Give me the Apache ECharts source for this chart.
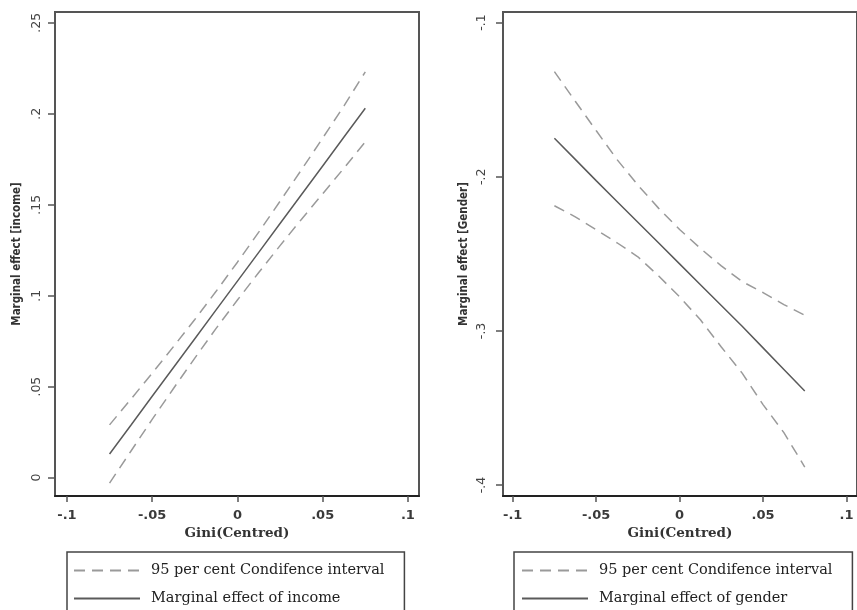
<!DOCTYPE html>
<html>
<head>
<meta charset="utf-8">
<script src="https://cdn.jsdelivr.net/npm/echarts@6/dist/echarts.min.js"></script>
<style>
html,body{margin:0;padding:0;background:#fff;}
#chart{width:857px;height:610px;}
</style>
</head>
<body>
<div id="chart"></div>
<script>
// ---- data ----
var giniX = [-0.075, -0.0625, -0.05, -0.0375, -0.025, -0.0125, 0, 0.0125, 0.025, 0.0375, 0.05, 0.0625, 0.075];

var incomeMid   = [0.013, 0.0288, 0.0447, 0.0605, 0.0763, 0.0922, 0.108, 0.1238, 0.1397, 0.1555, 0.1713, 0.1872, 0.203];
var incomeUpper = [0.029, 0.0431, 0.0574, 0.072, 0.0869, 0.1024, 0.1184, 0.1349, 0.1519, 0.1691, 0.1866, 0.2043, 0.223];
var incomeLower = [-0.003, 0.0145, 0.032, 0.049, 0.0657, 0.082, 0.0976, 0.1127, 0.1275, 0.1419, 0.156, 0.1701, 0.1846];

var genderMid   = [-0.175, -0.1887, -0.2025, -0.216, -0.2295, -0.243, -0.2565, -0.270, -0.2835, -0.297, -0.311, -0.325, -0.339];
var genderUpper = [-0.1318, -0.151, -0.170, -0.1888, -0.2054, -0.2205, -0.2342, -0.2465, -0.2578, -0.268, -0.2751, -0.2829, -0.2898];
var genderLower = [-0.2188, -0.226, -0.2343, -0.2428, -0.2519, -0.2644, -0.2779, -0.2928, -0.3104, -0.3274, -0.3478, -0.366, -0.3883];

var xTickValues = [-0.1, -0.05, 0, 0.05, 0.1];
var xTickLabels = ['-.1', '-.05', '0', '.05', '.1'];
var incomeTickValues = [0, 0.05, 0.1, 0.15, 0.2, 0.25];
var incomeTickLabels = ['0', '.05', '.1', '.15', '.2', '.25'];
var genderTickValues = [-0.4, -0.3, -0.2, -0.1];
var genderTickLabels = ['-.4', '-.3', '-.2', '-.1'];

var ciName = '95 per cent Condifence interval';
var incomeName = 'Marginal effect of income';
var genderName = 'Marginal effect of gender';
var xTitle = 'Gini(Centred)';
var incomeTitle = 'Marginal effect [income]';
var genderTitle = 'Marginal effect [Gender]';

function pairs(xs, ys){ return xs.map(function(x,i){ return [x, ys[i]]; }); }
function labeler(vals, labs){
  return function(v){
    for (var i=0;i<vals.length;i++){ if (Math.abs(vals[i]-v) < 1e-9) return labs[i]; }
    return '';
  };
}

var frameColor = '#555';
var dashStyle = {color:'#9a9a9a', width:1.5, type:[11,7]};
var solidStyle = {color:'#5a5a5a', width:1.5, type:'solid'};

function xAxisDef(gi, mn, mx){
  return {
    type:'value', gridIndex:gi, min:mn, max:mx,
    name: xTitle, nameLocation:'middle', nameGap:29,
    nameTextStyle:{fontFamily:'DejaVu Serif', fontWeight:'bold', fontSize:13.5, color:'#333'},
    axisLine:{show:true, onZero:false, lineStyle:{color:'#222', width:2}},
    axisTick:{show:true, length:6, customValues:xTickValues, lineStyle:{color:frameColor, width:1.5}},
    axisLabel:{show:true, customValues:xTickValues, formatter:labeler(xTickValues, xTickLabels),
      margin:13, fontFamily:'DejaVu Sans', fontWeight:'bold', fontSize:13, color:'#3a3a3a'},
    splitLine:{show:false}
  };
}
function yAxisDef(gi, mn, mx, vals, labs, title, gap, lmargin){
  return {
    type:'value', gridIndex:gi, min:mn, max:mx,
    name: title, nameLocation:'middle', nameGap:gap, nameRotate:90,
    nameTextStyle:{fontFamily:'DejaVu Sans Condensed, DejaVu Sans', fontWeight:'bold', fontSize:11.5, color:'#333'},
    axisLine:{show:true, onZero:false, lineStyle:{color:frameColor, width:2}},
    axisTick:{show:true, length:7, customValues:vals, lineStyle:{color:frameColor, width:1.5}},
    axisLabel:{show:true, rotate:90, customValues:vals, formatter:labeler(vals, labs),
      margin:lmargin, fontFamily:'DejaVu Sans', fontSize:12.5, color:'#444'},
    splitLine:{show:false}
  };
}

function legendDef(names, left, padLeft){
  return {
    data:names, orient:'vertical', left:left, top:552, height:120,
    itemWidth:66, itemHeight:14, itemGap:13,
    padding:[11, 20, 30, padLeft], borderColor:'#444', borderWidth:1.5, backgroundColor:'#fff',
    itemStyle:{opacity:0},
    textStyle:{fontFamily:'DejaVu Serif', fontSize:14.5, color:'#222', padding:[0,0,0,6]},
    selectedMode:false
  };
}

var chart = echarts.init(document.getElementById('chart'), null, {renderer:'canvas'});
chart.setOption({
  animation:false,
  backgroundColor:'#fff',
  grid:[
    {left:55, top:12, width:364, height:484, show:true, borderColor:frameColor, borderWidth:2, backgroundColor:'#fff'},
    {left:503, top:12, width:364, height:484, show:true, borderColor:frameColor, borderWidth:2, backgroundColor:'#fff'}
  ],
  xAxis:[ xAxisDef(0, -0.107, 0.1065), xAxisDef(1, -0.1058, 0.1063) ],
  yAxis:[
    yAxisDef(0, -0.0101, 0.2559, incomeTickValues, incomeTickLabels, incomeTitle, 32, 12),
    yAxisDef(1, -0.4071, -0.0931, genderTickValues, genderTickLabels, genderTitle, 33, 15)
  ],
  legend:[ legendDef([ciName, incomeName], 67, 6), legendDef([ciName, genderName], 514, 7) ],
  series:[
    {name:ciName, type:'line', xAxisIndex:0, yAxisIndex:0, data:pairs(giniX, incomeUpper), symbol:'none', lineStyle:dashStyle, itemStyle:{color:'#9a9a9a'}},
    {name:ciName, type:'line', xAxisIndex:0, yAxisIndex:0, data:pairs(giniX, incomeLower), symbol:'none', lineStyle:dashStyle, itemStyle:{color:'#9a9a9a'}},
    {name:incomeName, type:'line', xAxisIndex:0, yAxisIndex:0, data:pairs(giniX, incomeMid), symbol:'none', lineStyle:solidStyle, itemStyle:{color:'#5a5a5a'}},
    {name:ciName, type:'line', xAxisIndex:1, yAxisIndex:1, data:pairs(giniX, genderUpper), symbol:'none', lineStyle:dashStyle, itemStyle:{color:'#9a9a9a'}},
    {name:ciName, type:'line', xAxisIndex:1, yAxisIndex:1, data:pairs(giniX, genderLower), symbol:'none', lineStyle:dashStyle, itemStyle:{color:'#9a9a9a'}},
    {name:genderName, type:'line', xAxisIndex:1, yAxisIndex:1, data:pairs(giniX, genderMid), symbol:'none', lineStyle:solidStyle, itemStyle:{color:'#5a5a5a'}}
  ]
});
</script>
</body>
</html>
